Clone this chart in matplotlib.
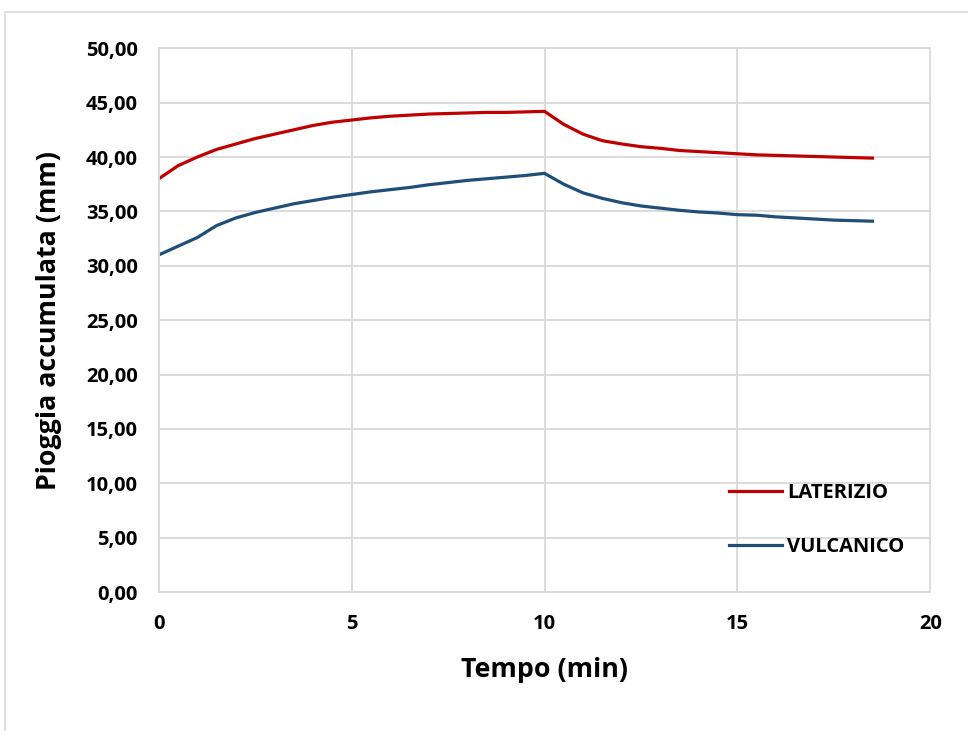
import matplotlib.pyplot as plt
from matplotlib.patches import Rectangle
from matplotlib.ticker import FuncFormatter, MultipleLocator

# Tempo (min), one sample every 30 s
tempo = [0, 0.5, 1, 1.5, 2, 2.5, 3, 3.5, 4, 4.5, 5, 5.5, 6, 6.5, 7, 7.5, 8, 8.5, 9, 9.5,
         10, 10.5, 11, 11.5, 12, 12.5, 13, 13.5, 14, 14.5, 15, 15.5, 16, 16.5, 17, 17.5, 18, 18.5]

# Pioggia accumulata (mm)
laterizio = [38.0, 39.2, 40.0, 40.7, 41.2, 41.7, 42.1, 42.5, 42.9, 43.2, 43.4, 43.6, 43.75, 43.85,
             43.95, 44.0, 44.05, 44.1, 44.1, 44.15, 44.2, 43.0, 42.1, 41.5, 41.2, 40.95, 40.8, 40.6,
             40.5, 40.4, 40.3, 40.2, 40.15, 40.1, 40.05, 40.0, 39.95, 39.9]
vulcanico = [31.0, 31.8, 32.6, 33.7, 34.4, 34.9, 35.3, 35.7, 36.0, 36.3, 36.55, 36.8, 37.0, 37.2,
             37.45, 37.65, 37.85, 38.0, 38.15, 38.3, 38.5, 37.5, 36.7, 36.2, 35.8, 35.5, 35.3, 35.1,
             34.95, 34.85, 34.7, 34.65, 34.5, 34.4, 34.3, 34.2, 34.15, 34.1]

plt.rcParams['font.family'] = ['Open Sans', 'DejaVu Sans']
plt.rcParams['font.weight'] = 'bold'

fig = plt.figure(figsize=(9.68, 7.31), dpi=100)
ax = fig.add_axes([0.164, 0.190, 0.797, 0.744])

# chart area border
fig.patches.append(Rectangle((0.005, -0.1), 1.1, 1.084, transform=fig.transFigure,
                             fill=False, edgecolor='#d9d9d9', linewidth=1.2))

ax.plot(tempo, laterizio, color='#c00000', linewidth=2.3, label='LATERIZIO')
ax.plot(tempo, vulcanico, color='#1f4e79', linewidth=2.3, label='VULCANICO')

ax.set_xlim(0, 20)
ax.set_ylim(0, 50)
ax.xaxis.set_major_locator(MultipleLocator(5))
ax.yaxis.set_major_locator(MultipleLocator(5))
ax.yaxis.set_major_formatter(FuncFormatter(lambda v, p: f'{v:.2f}'.replace('.', ',')))

ax.grid(True, color='#d9d9d9', linewidth=1.3)
ax.set_axisbelow(True)
for s in ax.spines.values():
    s.set_color('#d9d9d9')
    s.set_linewidth(1.3)
ax.tick_params(length=0, labelsize=14.5)
ax.tick_params(axis='y', pad=15)
ax.tick_params(axis='x', pad=16)
for lbl in ax.get_xticklabels() + ax.get_yticklabels():
    lbl.set_fontweight('bold')

ax.set_xlabel('Tempo (min)', fontsize=19.3, fontweight='bold', labelpad=16)
ax.set_ylabel('Pioggia accumulata (mm)', fontsize=19.3, fontweight='bold', labelpad=17)

leg = ax.legend(loc='center left', bbox_to_anchor=(0.7155, 0.132), frameon=False,
                prop={'size': 14.5, 'weight': 'bold'}, handlelength=2.63,
                handletextpad=0.25, labelspacing=1.7)

plt.savefig('out.png', dpi=100)
